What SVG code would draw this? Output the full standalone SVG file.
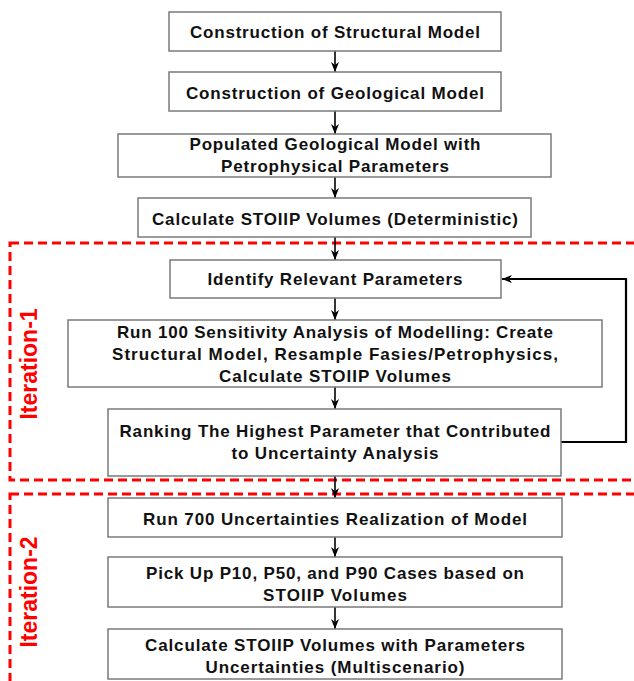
<svg xmlns="http://www.w3.org/2000/svg" width="634" height="681" viewBox="0 0 634 681">
<style>
.bg{fill:#fff}
.box{fill:#fff;stroke:#7a7a7a;stroke-width:1.5}
.t{font-family:"Liberation Sans",Arial,sans-serif;font-weight:bold;font-size:17px;fill:#111;text-anchor:middle}
.it{fill:none;stroke:#ff0000;stroke-width:3;stroke-dasharray:9 5}
.lbl{font-family:"Liberation Sans",Arial,sans-serif;font-weight:bold;font-size:23px;fill:#ff0000;text-anchor:middle}
.c{fill:none;stroke:#000;stroke-width:1.6}
.fb{fill:none;stroke:#000;stroke-width:2.2}
</style>
<defs>
<marker id="ah" viewBox="0 0 10 8" refX="10" refY="4" markerWidth="10" markerHeight="8" markerUnits="userSpaceOnUse" orient="auto">
<path d="M0,0 L10,4 L0,8 L3,4 z" fill="#000"/>
</marker>
</defs>
<rect class="bg" x="0" y="0" width="634" height="681"/>

<g id="iteration-1">
<rect class="it" x="10" y="243" width="640" height="237"/>
<text class="lbl" transform="translate(37,364) rotate(-90)">Iteration-1</text>
</g>
<g id="iteration-2">
<rect class="it" x="10" y="494" width="640" height="210"/>
<text class="lbl" transform="translate(37,592) rotate(-90)">Iteration-2</text>
</g>

<g id="connectors">
<line class="c" x1="335" y1="51" x2="335" y2="72" marker-end="url(#ah)"/>
<line class="c" x1="335" y1="111" x2="335" y2="134" marker-end="url(#ah)"/>
<line class="c" x1="335" y1="177" x2="335" y2="198" marker-end="url(#ah)"/>
<line class="c" x1="335" y1="237" x2="335" y2="260" marker-end="url(#ah)"/>
<line class="c" x1="335" y1="298" x2="335" y2="320" marker-end="url(#ah)"/>
<line class="c" x1="335" y1="387" x2="335" y2="409" marker-end="url(#ah)"/>
<line class="c" x1="335" y1="476" x2="335" y2="498" marker-end="url(#ah)"/>
<line class="c" x1="335" y1="537" x2="335" y2="557" marker-end="url(#ah)"/>
<line class="c" x1="335" y1="607" x2="335" y2="629" marker-end="url(#ah)"/>
<path class="fb" d="M561,442 H626 V279 H502" marker-end="url(#ah)"/>
</g>

<g id="n1">
<rect class="box" x="169" y="12" width="332" height="39"/>
<text class="t" x="335" y="38" textLength="290">Construction of Structural Model</text>
</g>
<g id="n2">
<rect class="box" x="169" y="72" width="332" height="39"/>
<text class="t" x="335" y="99" textLength="298">Construction of Geological Model</text>
</g>
<g id="n3">
<rect class="box" x="118" y="134" width="433" height="43"/>
<text class="t" x="335" y="150" textLength="291">Populated Geological Model with</text>
<text class="t" x="335" y="172" textLength="228">Petrophysical Parameters</text>
</g>
<g id="n4">
<rect class="box" x="138" y="198" width="393" height="39"/>
<text class="t" x="335" y="225" textLength="366">Calculate STOIIP Volumes (Deterministic)</text>
</g>
<g id="n5">
<rect class="box" x="170" y="260" width="331" height="38"/>
<text class="t" x="335" y="285" textLength="255">Identify Relevant Parameters</text>
</g>
<g id="n6">
<rect class="box" x="68" y="320" width="534" height="67"/>
<text class="t" x="335" y="338" textLength="436">Run 100 Sensitivity Analysis of Modelling: Create</text>
<text class="t" x="335" y="360" textLength="446">Structural Model, Resample Fasies/Petrophysics,</text>
<text class="t" x="335" y="382" textLength="232">Calculate STOIIP Volumes</text>
</g>
<g id="n7">
<rect class="box" x="108" y="409" width="453" height="67"/>
<text class="t" x="335" y="437" textLength="431">Ranking The Highest Parameter that Contributed</text>
<text class="t" x="335" y="459" textLength="207">to Uncertainty Analysis</text>
</g>
<g id="n8">
<rect class="box" x="108" y="498" width="454" height="39"/>
<text class="t" x="335" y="525" textLength="384">Run 700 Uncertainties Realization of Model</text>
</g>
<g id="n9">
<rect class="box" x="108" y="557" width="454" height="50"/>
<text class="t" x="335" y="579" textLength="378">Pick Up P10, P50, and P90 Cases based on</text>
<text class="t" x="335" y="601" textLength="144">STOIIP Volumes</text>
</g>
<g id="n10">
<rect class="box" x="108" y="629" width="454" height="50"/>
<text class="t" x="335" y="651" textLength="380">Calculate STOIIP Volumes with Parameters</text>
<text class="t" x="335" y="673" textLength="259">Uncertainties (Multiscenario)</text>
</g>
</svg>
